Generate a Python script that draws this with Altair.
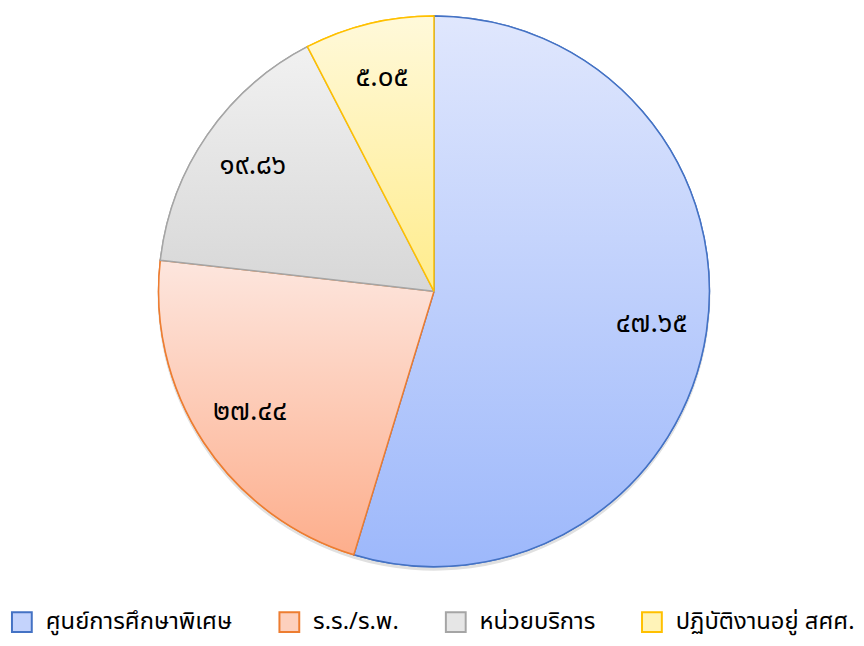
import altair as alt
import pandas as pd

cats = ["ศูนย์การศึกษาพิเศษ", "ร.ร./ร.พ.", "หน่วยบริการ", "ปฏิบัติงานอยู่ สศศ."]
shares = [54.7, 22.1, 15.6, 7.6]
labels = ["๔๗.๖๕", "๒๗.๔๔", "๑๙.๘๖", "๕.๐๕"]
order = [1, 2, 3, 4]

top_colors = ["#e0e7fd", "#fde6de", "#f1f1f1", "#fff9da"]
bottom_colors = ["#9db8fb", "#fdae8c", "#d7d7d7", "#ffec8c"]
mid_colors = ["#c4d3fc", "#fdd0bd", "#e6e6e6", "#fff3b8"]
stroke_colors = ["#4472c4", "#ed7d31", "#a5a5a5", "#ffc000"]

df = pd.DataFrame({"cat": cats, "share": shares, "label": labels, "idx": order})

FONT = "Noto Sans Thai, Noto Sans Thai Looped, Loma, Garuda, Tlwg Typo, Noto Sans, sans-serif"


def grad(i):
    return alt.LinearGradient(
        gradient="linear",
        stops=[alt.GradientStop(color=top_colors[i], offset=0),
               alt.GradientStop(color=bottom_colors[i], offset=1)],
        x1=0, x2=0, y1=0, y2=1,
    )


fill_cond = (
    alt.when(alt.datum.cat == cats[0]).then(alt.value(grad(0)))
    .when(alt.datum.cat == cats[1]).then(alt.value(grad(1)))
    .when(alt.datum.cat == cats[2]).then(alt.value(grad(2)))
    .otherwise(alt.value(grad(3)))
)

base = alt.Chart(df).encode(
    theta=alt.Theta("share:Q", stack=True),
    order=alt.Order("idx:Q"),
)

R = 278

shadow = base.mark_arc(outerRadius=R + 1, yOffset=3, fill="#000000", opacity=0.12, strokeWidth=0)

legend_layer = base.mark_arc(outerRadius=R, strokeWidth=1.5).encode(
    fill=alt.Color("cat:N", scale=alt.Scale(domain=cats, range=mid_colors), legend=alt.Legend(title=None)),
    stroke=alt.Stroke("cat:N", scale=alt.Scale(domain=cats, range=stroke_colors), legend=alt.Legend(title=None)),
)

grad_layer = base.mark_arc(outerRadius=R, strokeWidth=1.5).encode(
    fill=fill_cond,
    stroke=alt.Stroke("cat:N", scale=alt.Scale(domain=cats, range=stroke_colors), legend=alt.Legend(title=None)),
)

text_layer = base.mark_text(radius=222, fontSize=28, font=FONT, color="#000000", fontWeight="normal").encode(
    text="label:N"
)

chart = alt.layer(shadow, legend_layer, grad_layer, text_layer).properties(
    width=848, height=566,
    autosize=alt.AutoSizeParams(type="none"),
    padding={"left": 6, "top": 0, "right": 2, "bottom": 66},
).configure_view(stroke=None).configure_legend(
    orient="none",
    direction="horizontal",
    legendX=-4,
    legendY=605,
    symbolType="square",
    symbolSize=400,
    symbolStrokeWidth=2,
    labelFontSize=24,
    labelFont=FONT,
    labelFontWeight="normal",
    labelColor="#000000",
    labelOffset=12,
    columnPadding=43,
    labelLimit=400,
)

chart.save("out.html", embed_options={"renderer": "svg", "actions": False})
